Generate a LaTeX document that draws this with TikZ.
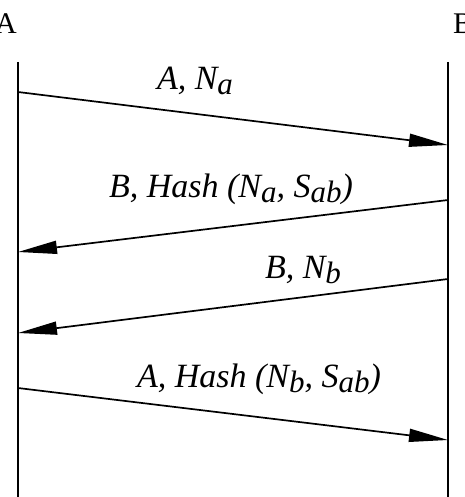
\documentclass[tikz,border=0pt]{standalone}
\usepackage{fontspec}
\setmainfont{Liberation Serif}
\usetikzlibrary{arrows.meta}
\newcommand{\idx}[1]{\raisebox{-5pt}{\fontsize{31}{31}\selectfont #1}}
\begin{document}
\begin{tikzpicture}[x=1pt,y=-1pt,>={Triangle[length=39pt,width=13pt]},
  msg/.style={line width=1.7pt,->},
  life/.style={line width=2pt},
  lbl/.style={font=\fontsize{34}{38}\selectfont\itshape,inner sep=0pt,anchor=base}]
	  \useasboundingbox (0,0) rectangle (464,497);
	  \node[lbl,font=\fontsize{30}{34}\selectfont] (pa) at (6,34) {A};
	  \node[lbl,font=\fontsize{30}{34}\selectfont] (pb) at (463,34) {B};
	  \coordinate (a0) at (18,62);
	  \coordinate (a5) at (18,497);
	  \coordinate (b0) at (448,62);
	  \coordinate (b5) at (448,497);
	  \draw[life] (a0) -- (a5);
	  \draw[life] (b0) -- (b5);
	  \coordinate (a1) at (18,92);
	  \coordinate (b1) at (448,145);
	  \coordinate (b2) at (448,200);
	  \coordinate (a2) at (18,252);
	  \coordinate (b3) at (448,279);
	  \coordinate (a3) at (18,333);
	  \coordinate (a4) at (18,388);
	  \coordinate (b4) at (448,440);
	  \draw[msg] (a1) -- (b1);
	  \draw[msg] (b2) -- (a2);
	  \draw[msg] (b3) -- (a3);
	  \draw[msg] (a4) -- (b4);
	  \node[lbl] (m1) at (195,90) {A, N\idx{a}};
	  \node[lbl] (m2) at (231,197) {B, Hash (N\idx{a}, S\idx{ab})};
	  \node[lbl] (m3) at (303,278) {B, N\idx{b}};
	  \node[lbl] (m4) at (259,387) {A, Hash (N\idx{b}, S\idx{ab})};
\end{tikzpicture}
\end{document}
